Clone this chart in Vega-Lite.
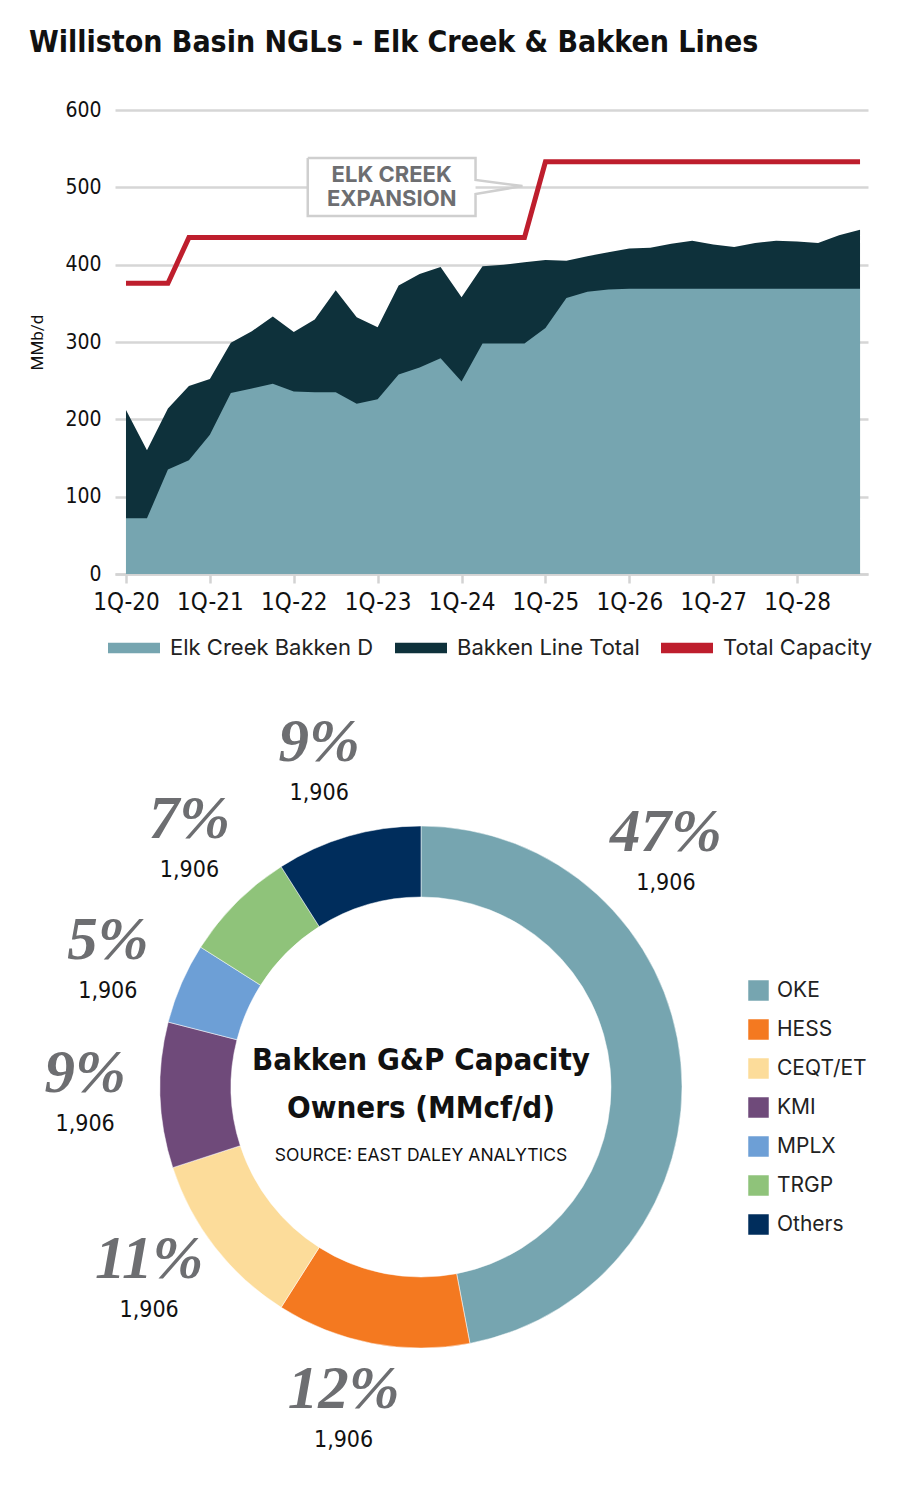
{
  "$schema": "https://vega.github.io/schema/vega-lite/v6.json",
  "background": "white",
  "padding": {"left": 28, "top": 28, "right": 10, "bottom": 10},
  "bounds": "flush",
  "spacing": 233,
  "resolve": {"scale": {"color": "independent", "theta": "independent"}, "legend": {"color": "independent"}},
  "config": {"view": {"stroke": null}},
  "datasets": {
    "flows": [
      {"t": 0, "quarter": "1Q-20", "elk": 72, "total": 212, "cap": 376},
      {"t": 1, "quarter": "2Q-20", "elk": 72, "total": 160, "cap": 376},
      {"t": 2, "quarter": "3Q-20", "elk": 135, "total": 214, "cap": 376},
      {"t": 3, "quarter": "4Q-20", "elk": 147, "total": 243, "cap": 435},
      {"t": 4, "quarter": "1Q-21", "elk": 180, "total": 252, "cap": 435},
      {"t": 5, "quarter": "2Q-21", "elk": 234, "total": 299, "cap": 435},
      {"t": 6, "quarter": "3Q-21", "elk": 240, "total": 314, "cap": 435},
      {"t": 7, "quarter": "4Q-21", "elk": 246, "total": 333, "cap": 435},
      {"t": 8, "quarter": "1Q-22", "elk": 236, "total": 313, "cap": 435},
      {"t": 9, "quarter": "2Q-22", "elk": 235, "total": 329, "cap": 435},
      {"t": 10, "quarter": "3Q-22", "elk": 235, "total": 367, "cap": 435},
      {"t": 11, "quarter": "4Q-22", "elk": 220, "total": 332, "cap": 435},
      {"t": 12, "quarter": "1Q-23", "elk": 226, "total": 319, "cap": 435},
      {"t": 13, "quarter": "2Q-23", "elk": 258, "total": 373, "cap": 435},
      {"t": 14, "quarter": "3Q-23", "elk": 267, "total": 388, "cap": 435},
      {"t": 15, "quarter": "4Q-23", "elk": 279, "total": 397, "cap": 435},
      {"t": 16, "quarter": "1Q-24", "elk": 249, "total": 358, "cap": 435},
      {"t": 17, "quarter": "2Q-24", "elk": 298, "total": 398, "cap": 435},
      {"t": 18, "quarter": "3Q-24", "elk": 298, "total": 400, "cap": 435},
      {"t": 19, "quarter": "4Q-24", "elk": 298, "total": 403, "cap": 435},
      {"t": 20, "quarter": "1Q-25", "elk": 318, "total": 406, "cap": 533},
      {"t": 21, "quarter": "2Q-25", "elk": 357, "total": 405, "cap": 533},
      {"t": 22, "quarter": "3Q-25", "elk": 365, "total": 411, "cap": 533},
      {"t": 23, "quarter": "4Q-25", "elk": 368, "total": 416, "cap": 533},
      {"t": 24, "quarter": "1Q-26", "elk": 369, "total": 421, "cap": 533},
      {"t": 25, "quarter": "2Q-26", "elk": 369, "total": 422, "cap": 533},
      {"t": 26, "quarter": "3Q-26", "elk": 369, "total": 427, "cap": 533},
      {"t": 27, "quarter": "4Q-26", "elk": 369, "total": 431, "cap": 533},
      {"t": 28, "quarter": "1Q-27", "elk": 369, "total": 426, "cap": 533},
      {"t": 29, "quarter": "2Q-27", "elk": 369, "total": 423, "cap": 533},
      {"t": 30, "quarter": "3Q-27", "elk": 369, "total": 428, "cap": 533},
      {"t": 31, "quarter": "4Q-27", "elk": 369, "total": 431, "cap": 533},
      {"t": 32, "quarter": "1Q-28", "elk": 369, "total": 430, "cap": 533},
      {"t": 33, "quarter": "2Q-28", "elk": 369, "total": 428, "cap": 533},
      {"t": 34, "quarter": "3Q-28", "elk": 369, "total": 438, "cap": 533},
      {"t": 35, "quarter": "4Q-28", "elk": 369, "total": 445, "cap": 533}
    ],
    "calloutBox": [
      {"t": 8.667, "t2": 16.667, "v": 463, "v2": 538}
    ],
    "callout": [
      {"o": 1, "t": 8.667, "v": 538},
      {"o": 2, "t": 16.667, "v": 538},
      {"o": 3, "t": 16.667, "v": 509.5},
      {"o": 4, "t": 18.905, "v": 501.7},
      {"o": 5, "t": 16.667, "v": 491.4},
      {"o": 6, "t": 16.667, "v": 463},
      {"o": 7, "t": 8.667, "v": 463},
      {"o": 8, "t": 8.667, "v": 538}
    ],
    "calloutText": [
      {"t": 12.667, "v": 515.5, "label": "ELK CREEK"},
      {"t": 12.667, "v": 485.5, "label": "EXPANSION"}
    ],
    "owners": [
      {"owner": "OKE", "ord": 1, "share": 47, "pct": "47%", "num": "1,906", "pos": 13.0},
      {"owner": "HESS", "ord": 2, "share": 12, "pct": "12%", "num": "1,906", "pos": 53.7},
      {"owner": "CEQT/ET", "ord": 3, "share": 11, "pct": "11%", "num": "1,906", "pos": 65.0},
      {"owner": "KMI", "ord": 4, "share": 9, "pct": "9%", "num": "1,906", "pos": 74.5},
      {"owner": "MPLX", "ord": 5, "share": 5, "pct": "5%", "num": "1,906", "pos": 80.9},
      {"owner": "TRGP", "ord": 6, "share": 7, "pct": "7%", "num": "1,906", "pos": 87.9},
      {"owner": "Others", "ord": 7, "share": 9, "pct": "9%", "num": "1,906", "pos": 95.1}
    ]
  },
  "vconcat": [
    {
      "width": 753,
      "height": 464,
      "title": {
        "text": "Williston Basin NGLs - Elk Creek & Bakken Lines",
        "anchor": "start",
        "frame": "bounds",
        "font": "Noto Sans ExtraCondensed, Noto Sans Condensed, DejaVu Sans Condensed, Roboto",
        "fontSize": 30,
        "fontWeight": "bold",
        "color": "#111111",
        "offset": 41
      },
      "data": {"name": "flows"},
      "layer": [
        {
          "mark": {"type": "area"},
          "encoding": {
            "x": {
              "field": "t", "type": "quantitative",
              "scale": {"domain": [-0.524, 35.38], "nice": false, "zero": false},
              "axis": {
                "values": [0, 4, 8, 12, 16, 20, 24, 28, 32],
                "labelExpr": "'1Q-' + (20 + datum.value / 4)",
                "title": null,
                "grid": false,
                "domain": true, "domainColor": "#d3d3d3", "domainWidth": 2.5,
                "ticks": true, "tickColor": "#d3d3d3", "tickWidth": 2.5, "tickSize": 9,
                "labelFont": "Noto Sans Condensed, DejaVu Sans Condensed, Roboto", "labelFontSize": 24, "labelColor": "#111111",
                "labelPadding": 7
              }
            },
            "y": {
              "field": "total", "type": "quantitative", "stack": null,
              "scale": {"domain": [0, 600], "nice": false},
              "axis": {
                "values": [0, 100, 200, 300, 400, 500, 600],
                "grid": true, "gridColor": "#d6d6d6", "gridWidth": 2.5,
                "ticks": false, "domain": false,
                "labelFont": "Noto Sans Condensed, DejaVu Sans Condensed, Roboto", "labelFontSize": 21, "labelColor": "#111111",
                "labelPadding": 14,
                "title": "MMb/d", "titleFont": "Roboto", "titleFontSize": 17, "titleFontWeight": "normal",
                "titleColor": "#111111", "titlePadding": 18
              }
            },
            "color": {
              "datum": "Bakken Line Total",
              "scale": {
                "domain": ["Elk Creek Bakken D", "Bakken Line Total", "Total Capacity"],
                "range": ["#76a5b0", "#0e313b", "#be1e2d"]
              },
              "legend": {
                "orient": "none", "direction": "horizontal", "legendX": -7, "legendY": 512, "title": null,
                "symbolType": "M-1,-0.2H1V0.2H-1Z", "symbolSize": 2704, "symbolStrokeWidth": 0,
                "labelFont": "Inter", "labelFontSize": 22, "labelColor": "#222222", "labelLimit": 300,
                "labelOffset": 10, "columnPadding": 21
              }
            }
          }
        },
        {
          "mark": {"type": "area"},
          "encoding": {
            "x": {"field": "t", "type": "quantitative"},
            "y": {"field": "elk", "type": "quantitative", "stack": null},
            "color": {"datum": "Elk Creek Bakken D"}
          }
        },
        {
          "mark": {"type": "line", "strokeWidth": 5, "strokeJoin": "miter"},
          "encoding": {
            "x": {"field": "t", "type": "quantitative"},
            "y": {"field": "cap", "type": "quantitative"},
            "color": {"datum": "Total Capacity"}
          }
        },
        {
          "data": {"name": "calloutBox"},
          "mark": {"type": "rect", "color": "white"},
          "encoding": {
            "x": {"field": "t", "type": "quantitative"},
            "x2": {"field": "t2"},
            "y": {"field": "v", "type": "quantitative"},
            "y2": {"field": "v2"}
          }
        },
        {
          "data": {"name": "callout"},
          "mark": {"type": "line", "color": "#cfcfcf", "strokeWidth": 2.5, "strokeJoin": "miter"},
          "encoding": {
            "x": {"field": "t", "type": "quantitative"},
            "y": {"field": "v", "type": "quantitative"},
            "order": {"field": "o"}
          }
        },
        {
          "data": {"name": "calloutText"},
          "mark": {"type": "text", "font": "Inter", "fontSize": 22, "fontWeight": "bold", "color": "#6d6e71", "baseline": "middle"},
          "encoding": {
            "x": {"field": "t", "type": "quantitative"},
            "y": {"field": "v", "type": "quantitative"},
            "text": {"field": "label"}
          }
        }
      ]
    },
    {
      "width": 612,
      "height": 560,
      "data": {"name": "owners"},
      "layer": [
        {
          "mark": {"type": "arc", "innerRadius": 190, "outerRadius": 261, "stroke": "white", "strokeWidth": 0.5},
          "encoding": {
            "theta": {"field": "share", "type": "quantitative", "stack": true, "scale": {"domain": [0, 100]}},
            "order": {"field": "ord"},
            "color": {
              "field": "owner", "type": "nominal",
              "scale": {
                "domain": ["OKE", "HESS", "CEQT/ET", "KMI", "MPLX", "TRGP", "Others"],
                "range": ["#76a5b0", "#f47920", "#fcdc9a", "#6f4a7a", "#6d9fd6", "#8fc37a", "#002d5c"]
              },
              "legend": {
                "orient": "none", "legendX": 633, "legendY": 173, "title": null,
                "symbolType": "square", "symbolSize": 420, "symbolStrokeWidth": 0,
                "labelFont": "Inter", "labelFontSize": 21, "labelColor": "#222222",
                "rowPadding": 17, "labelOffset": 8
              }
            }
          }
        },
        {
          "mark": {"type": "text", "radius": 336, "dy": -24, "font": "Liberation Serif", "fontSize": 61, "fontStyle": "italic", "fontWeight": "bold", "color": "#6d6e71", "baseline": "middle"},
          "encoding": {
            "theta": {"field": "pos", "type": "quantitative", "stack": null},
            "text": {"field": "pct"}
          }
        },
        {
          "mark": {"type": "text", "radius": 336, "dy": 26, "font": "Noto Sans ExtraCondensed, Noto Sans Condensed, DejaVu Sans Condensed, Roboto", "fontSize": 23, "color": "#111111", "baseline": "middle"},
          "encoding": {
            "theta": {"field": "pos", "type": "quantitative", "stack": null},
            "text": {"field": "num"}
          }
        },
        {
          "data": {"values": [{"line": "Bakken G&P Capacity"}]},
          "mark": {"type": "text", "dy": -26, "font": "Noto Sans Condensed, DejaVu Sans Condensed, Roboto", "fontSize": 31, "fontWeight": "bold", "color": "#111111", "baseline": "middle"},
          "encoding": {"text": {"field": "line"}}
        },
        {
          "data": {"values": [{"line": "Owners (MMcf/d)"}]},
          "mark": {"type": "text", "dy": 22, "font": "Noto Sans Condensed, DejaVu Sans Condensed, Roboto", "fontSize": 31, "fontWeight": "bold", "color": "#111111", "baseline": "middle"},
          "encoding": {"text": {"field": "line"}}
        },
        {
          "data": {"values": [{"line": "SOURCE: EAST DALEY ANALYTICS"}]},
          "mark": {"type": "text", "dy": 69, "font": "Inter", "fontSize": 17.5, "color": "#111111", "baseline": "middle"},
          "encoding": {"text": {"field": "line"}}
        }
      ]
    }
  ]
}
